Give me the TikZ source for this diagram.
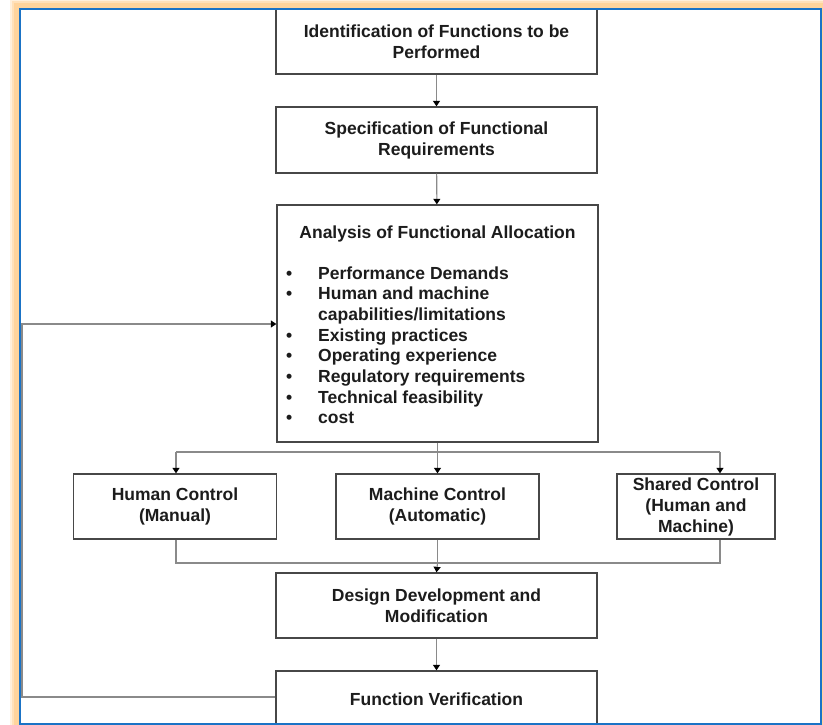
\documentclass[tikz,border=0pt]{standalone}
\usepackage{fontspec}
\setmainfont{Liberation Sans}
\usetikzlibrary{arrows.meta}
\definecolor{glow}{HTML}{FFD49C}
\definecolor{framecol}{HTML}{1A73C6}
\definecolor{boxline}{HTML}{474747}
\definecolor{linkcol}{HTML}{8A8A8A}
\definecolor{inkcol}{HTML}{1C1C1C}
\tikzset{
  stagebox/.style={draw=boxline, line width=1.3pt, fill=white, inner sep=0pt,
    minimum height=65pt, text=inkcol, align=center,
    font=\bfseries\fontsize{17.5}{21}\selectfont},
  labeltext/.style={inner sep=0pt, text=inkcol, font=\bfseries\fontsize{17.5}{20.7}\selectfont},
  link/.style={draw=linkcol, line width=1.1pt},
  flow/.style={link, -{Triangle[width=7pt,length=5.5pt,color=black]}}
}
\begin{document}
\begin{tikzpicture}[x=1pt,y=-1pt]
\useasboundingbox (0,0) rectangle (823,725);
% soft orange halo round the page frame
\fill[glow!35] (10,0) rectangle (823,725);
\fill[glow!70] (12,1) rectangle (823,725);
\fill[glow] (14,3) rectangle (823,725);
\fill[white] (20,9) rectangle (821,724);

% main chain of stages
\node[stagebox, minimum width=321pt] (ident) at (436.5,41.5)
  {Identification of Functions to be\\Performed};
\node[stagebox, minimum width=321pt, minimum height=66pt] (spec) at (436.5,140)
  {Specification of Functional\\Requirements};
\node[stagebox, minimum width=321pt, minimum height=237pt] (alloc) at (437.5,323.5) {};
\node[labeltext, anchor=base] (alloctitle) at (437.5,238) {Analysis of Functional Allocation};
\node[labeltext, anchor=base west] (alloclist) at (286,279)
  {\begin{tabular}[t]{@{}p{32pt}@{}l@{}}
   \textbullet & Performance Demands\\
   \textbullet & Human and machine\\
               & capabilities/limitations\\
   \textbullet & Existing practices\\
   \textbullet & Operating experience\\
   \textbullet & Regulatory requirements\\
   \textbullet & Technical feasibility\\
   \textbullet & cost
  \end{tabular}};

% three allocation options
\node[stagebox, minimum width=203pt] (human) at (175,506.5) {Human Control\\(Manual)};
\node[stagebox, minimum width=203pt] (machine) at (437.5,506.5) {Machine Control\\(Automatic)};
\node[stagebox, minimum width=158pt] (shared) at (696,506.5) {Shared Control\\(Human and\\Machine)};

\node[stagebox, minimum width=321pt] (design) at (436.5,605.5) {Design Development and\\Modification};
\node[stagebox, minimum width=321pt, minimum height=56pt] (verify) at (436.5,699) {Function Verification};

% branch and merge rails
\coordinate (split) at (437.5,452);
\coordinate (merge) at (437.5,563);
\coordinate (splitL) at (176,452);
\coordinate (splitR) at (720,452);
\coordinate (mergeL) at (176,563);
\coordinate (mergeR) at (720,563);
\coordinate (loopB) at (22,697);
\coordinate (loopT) at (22,324);

\draw[flow] (ident) -- (spec);
\draw[flow] (spec) -- (alloc);
\draw[link] (alloc.south) -- (split);
\draw[link] (splitL) -- (splitR);
\draw[flow] (splitL) -- (human.north -| splitL);
\draw[flow] (split) -- (machine.north);
\draw[flow] (splitR) -- (shared.north -| splitR);
\draw[link] (human.south -| mergeL) -- (mergeL) -- (mergeR) -- (shared.south -| mergeR);
\draw[link] (machine.south) -- (merge);
\draw[flow] (merge) -- (design.north);
\draw[flow] (design) -- (verify.north);
% feedback from verification back into the allocation analysis
\draw[flow] (verify.west |- loopB) -- (loopB) -- (loopT) -- (alloc.west |- loopT);

% page frame
\draw[framecol, line width=2pt] (20,9) rectangle (821,724);
\end{tikzpicture}
\end{document}
